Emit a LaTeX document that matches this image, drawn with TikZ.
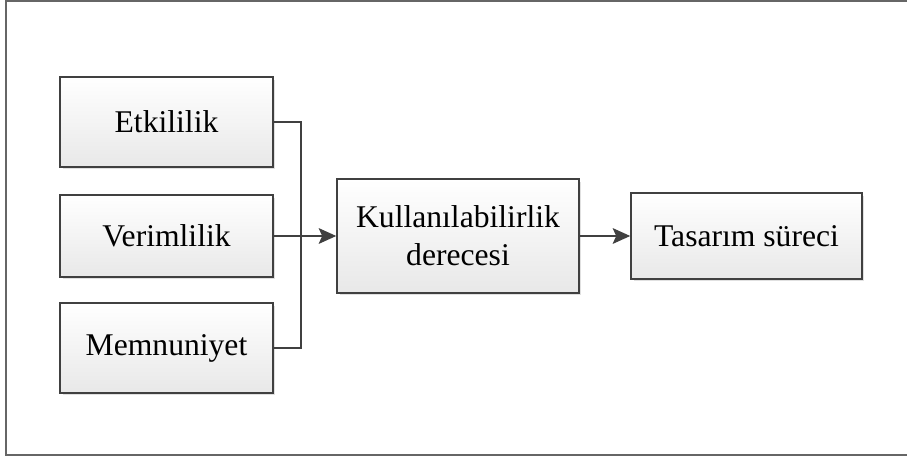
\documentclass[tikz,border=0pt]{standalone}
\usepackage{fontspec}
\setmainfont{LiberationSerif}[Extension=.ttf, UprightFont=*-Regular, BoldFont=*-Bold]
\usetikzlibrary{arrows.meta,positioning,shadows}

\begin{document}
\begin{tikzpicture}[x=0.02cm,y=-0.02cm,
    kutu/.style={draw=black!75, line width=0.9pt, top color=white, bottom color=black!9,
      drop shadow={shadow xshift=0.05cm, shadow yshift=-0.05cm, fill=black!12, opacity=1},
      font=\fontsize{18}{21.6}\selectfont, align=center, inner sep=0pt},
    ok/.style={draw=black!75, line width=0.7pt},
    okucu/.style={-{Stealth[length=10pt,width=9pt,inset=2pt]}}]
      % Frame (right edge is cut off)
      \useasboundingbox (0,0) rectangle (907,459);
      \draw[black!60, line width=1pt] (907,1) -- (6,1) -- (6,455) -- (907,455);
      % Left column
      \node[kutu, minimum width=4.26cm, minimum height=1.8cm] (etk) at (166.5,122) {Etkililik};
      \node[kutu, minimum width=4.26cm, minimum height=1.64cm] (ver) at (166.5,236) {Verimlilik};
      \node[kutu, minimum width=4.26cm, minimum height=1.8cm] (mem) at (166.5,348) {Memnuniyet};
      % Middle and right boxes
      \node[kutu, minimum width=4.84cm, minimum height=2.28cm] (kul) at (458,236) {Kullanılabilirlik\\derecesi};
      \node[kutu, minimum width=4.62cm, minimum height=1.72cm] (tas) at (746.5,236) {Tasarım süreci};
      % Bracket joining the three boxes
      \coordinate (bag) at (301,236);
      \draw[ok] (etk.east) -| (bag) |- (mem.east);
      \draw[ok, okucu] (ver.east) -- (kul.west);
      \draw[ok, okucu] (kul.east) -- (tas.west);
\end{tikzpicture}
\end{document}
